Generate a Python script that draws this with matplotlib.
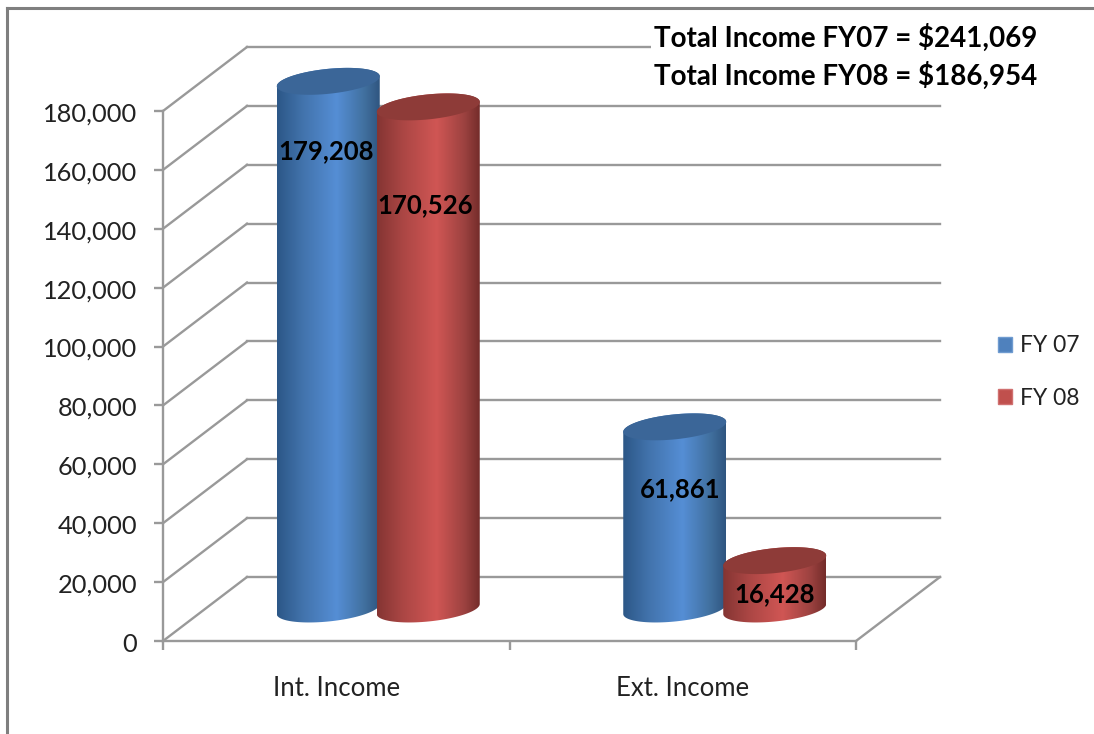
import numpy as np
import matplotlib
matplotlib.use('Agg')
import matplotlib.pyplot as plt
from matplotlib.colors import LinearSegmentedColormap
from matplotlib.lines import Line2D
from matplotlib.patches import Patch, Polygon
from matplotlib.path import Path
from matplotlib.transforms import ScaledTranslation

#---------------------------------------------------------
#Data
#---------------------------------------------------------
categories = ['Int. Income', 'Ext. Income']
fy07 = [179208, 61861]
fy08 = [170526, 16428]
series_names = ['FY 07', 'FY 08']
y_ticks = [0, 20000, 40000, 60000, 80000, 100000, 120000, 140000, 160000, 180000]
totals = ['Total Income FY07 = $241,069', 'Total Income FY08 = $186,954']

#---------------------------------------------------------
#Layout (pixels of the 1094x734 picture)
#---------------------------------------------------------
W, H = 1094, 734
LEFT, RIGHT, TOP, BOTTOM = 163, 856, 111, 641
PX_X = (RIGHT - LEFT) / 2
PX_Y = (BOTTOM - TOP) / 180000

DEPTH_X = 84 / PX_X
DEPTH_Y = 64 / PX_Y
RADIUS = 51.5 / PX_X
SQUASH = 12.5 / PX_Y
TILT = 5 / PX_Y
BAR_SHIFT = 50 / PX_X
BASE = 32 / PX_Y

GRID = '#999999'
FRAME = '#7f7f7f'
FONT = 'Lato'

plt.rcParams['font.family'] = FONT
fig = plt.figure(figsize=(W / 100, H / 100), dpi=100)
ax = fig.add_axes([LEFT / W, 1 - BOTTOM / H, (RIGHT - LEFT) / W, (BOTTOM - TOP) / H])
ax.set_xlim(0, 2)
ax.set_ylim(0, 180000)
ax.set_autoscale_on(False)


def draw_cylinder(cx, value, cmap, top_color, z):
    t = np.linspace(0, np.pi, 60)
    top = BASE + value
    # back half of the bottom is hidden, so walk the front half only
    xs = cx + RADIUS * np.cos(t)
    low = BASE - SQUASH * np.sin(t) + TILT * np.cos(t)
    high = top + SQUASH * np.sin(t) + TILT * np.cos(t)
    outline = np.vstack([np.column_stack([xs, low]), np.column_stack([xs[::-1], high[::-1]])])

    shade = np.linspace(0, 1, 256).reshape(1, -1)
    im = ax.imshow(shade, cmap=cmap, aspect='auto', zorder=z, interpolation='bilinear',
                   extent=[cx - RADIUS, cx + RADIUS, BASE - 2 * SQUASH, top + 2 * SQUASH])
    im.set_clip_box(fig.bbox)
    im.set_clip_path(Path(outline, closed=False), ax.transData)

    t2 = np.linspace(0, 2 * np.pi, 120)
    cap = np.column_stack([cx + RADIUS * np.cos(t2),
                           top + SQUASH * np.sin(t2) + TILT * np.cos(t2)])
    ax.add_patch(Polygon(cap, closed=True, facecolor=top_color, edgecolor='none',
                         zorder=z + 0.1, clip_on=False))


#---------------------------------------------------------
#Walls
#---------------------------------------------------------
for v in y_ticks:
    ax.plot([0, DEPTH_X], [v, v + DEPTH_Y], color=GRID, lw=1.7, zorder=1, clip_on=False)
    ax.plot([DEPTH_X, 2 + DEPTH_X], [v + DEPTH_Y, v + DEPTH_Y], color=GRID, lw=1.7, zorder=1, clip_on=False)
ax.plot([2, 2 + DEPTH_X], [0, DEPTH_Y], color=GRID, lw=1.7, zorder=1, clip_on=False)

#---------------------------------------------------------
#Bars
#---------------------------------------------------------
blue = LinearSegmentedColormap.from_list('b', [(0, '#2c5787'), (0.25, '#4273ac'), (0.58, '#558ed5'), (0.85, '#41709f'), (1, '#2f5580')])
red = LinearSegmentedColormap.from_list('r', [(0, '#843533'), (0.25, '#ab4644'), (0.58, '#d05654'), (0.85, '#9c4240'), (1, '#742c2a')])

for i in range(len(categories)):
    centre = i + 0.5 + DEPTH_X / 2
    draw_cylinder(centre - BAR_SHIFT, fy07[i], blue, '#3b6698', 3 + i)
    draw_cylinder(centre + BAR_SHIFT, fy08[i], red, '#8e3b38', 3.5 + i)

#---------------------------------------------------------
#Axes
#---------------------------------------------------------
for name in ['top', 'right']:
    ax.spines[name].set_visible(False)
for name in ['left', 'bottom']:
    ax.spines[name].set_color(GRID)
    ax.spines[name].set_linewidth(1.7)
ax.set_yticks(y_ticks)
ax.set_yticklabels([f'{v:,}' for v in y_ticks])
ax.set_xticks([0, 1, 2])
ax.set_xticklabels([])
ax.set_xticks([0.5, 1.5], minor=True)
ax.set_xticklabels(categories, minor=True)
ax.tick_params(axis='both', which='major', length=6.5, width=1.7, color=GRID, labelcolor='#222222', labelsize=18.3)
ax.tick_params(axis='y', which='major', pad=12)
ax.tick_params(axis='x', which='minor', length=0, pad=25, labelsize=18.5, labelcolor='#222222')
for label in ax.get_yticklabels():
    label.set_transform(label.get_transform() + ScaledTranslation(0, -1 / 100, fig.dpi_scale_trans))

#---------------------------------------------------------
#Text on the bars
#---------------------------------------------------------
bar_labels = [f'{fy07[0]:,}', f'{fy08[0]:,}', f'{fy07[1]:,}', f'{fy08[1]:,}']
label_px = [(326, 151), (425, 205), (680, 489), (775, 594)]
for text, (px, py) in zip(bar_labels, label_px):
    fig.text(px / W, 1 - py / H, text, ha='center', va='center', fontsize=18.5,
             fontweight='bold', color='black', zorder=10)

fig.text(654 / W, 1 - 57 / H, '\n'.join(totals), ha='left', va='center', fontsize=20,
         fontweight='bold', color='black', linespacing=1.43, zorder=10,
         bbox=dict(facecolor='white', edgecolor='none', pad=2))

#---------------------------------------------------------
#Legend and frame
#---------------------------------------------------------
handles = [Patch(facecolor='#4f81bd', edgecolor='#6f9bd0', label=series_names[0]),
           Patch(facecolor='#c0504d', edgecolor='#d07070', label=series_names[1])]
fig.legend(handles=handles, loc='center left', bbox_to_anchor=(977 / W, 1 - 372 / H), frameon=False,
           fontsize=16.5, handlelength=0.62, handleheight=0.62, handletextpad=0.36, labelspacing=1.38,
           labelcolor='#222222')

fig.add_artist(Line2D([7 / W, 7 / W], [0, 1 - 8 / H], color=FRAME, lw=2.2, transform=fig.transFigure))
fig.add_artist(Line2D([7 / W, 1], [1 - 8 / H, 1 - 8 / H], color=FRAME, lw=2.2, transform=fig.transFigure))

fig.savefig('out.png', dpi=100)
